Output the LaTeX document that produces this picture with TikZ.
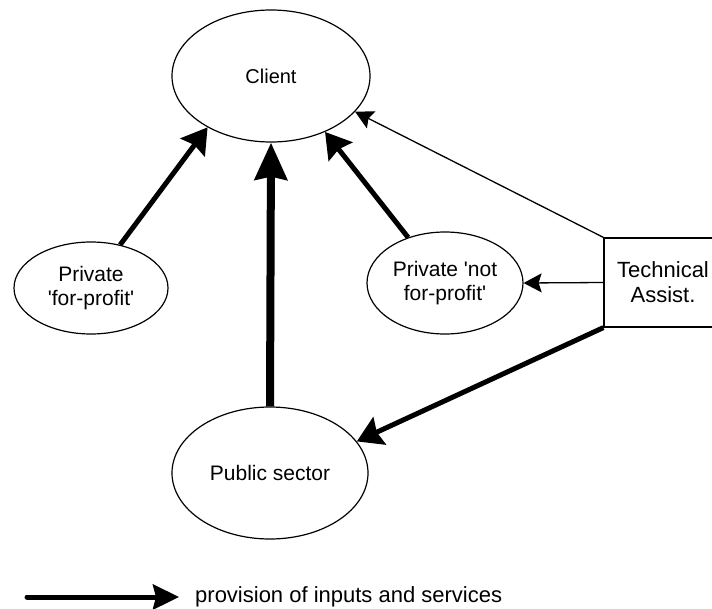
\documentclass[tikz,border=0pt]{standalone}
\usepackage{fontspec}
\setmainfont{Liberation Sans}
\usepackage{tikz}
\usetikzlibrary{arrows.meta, shapes.geometric}

\begin{document}
\begin{tikzpicture}[x=1pt, y=-1pt,
    bubble/.style={draw, ellipse, line width=1.2pt, inner sep=0pt, align=center, font=\fontsize{21}{24}\selectfont},
    flow/.style={line width=5pt, -{Stealth[length=25pt, width=30pt, inset=3pt]}},
    bigflow/.style={line width=8pt, -{Stealth[length=37pt, width=32pt, inset=3pt]}},
    hint/.style={line width=1.3pt, -{Stealth[length=18pt, width=19pt, inset=3pt]}}]
\useasboundingbox (0,0) rectangle (712,608);
\clip (0,0) rectangle (712,608);

% Draw the actors
\node[bubble, minimum width=198pt, minimum height=132pt, font=\fontsize{20}{23}\selectfont] (client) at (271,76) {Client};
\node[bubble, minimum width=154pt, minimum height=92pt] (profit) at (91,288) {Private\\\textquotesingle for-profit\textquotesingle};
\node[bubble, minimum width=156pt, minimum height=102pt] (notprofit) at (445,283) {Private \textquotesingle not\\for-profit\textquotesingle};
\node[bubble, minimum width=196pt, minimum height=132pt] (public) at (270,473) {Public sector};
\node[draw, rectangle, line width=1.2pt, minimum width=118pt, minimum height=89pt, align=center,
      font=\fontsize{22}{25}\selectfont] (assist) at (663,282.5) {Technical\\Assist.};

% Draw flows to the client
\draw[flow] (profit.56) -- (client.219);
\draw[bigflow] (public.north) -- (client.south);
\draw[flow] (notprofit.129) -- (client.314);

% Draw technical assistance
\draw[hint] (assist.north west) -- (client.337);
\draw[hint] (assist.west) -- (notprofit.east);
\draw[flow] (assist.south west) -- (public.20);

% Legend
\coordinate (legstart) at (27,597);
\coordinate (legend) at (179,597);
\draw[line width=5pt, line cap=round, -{Stealth[length=26pt, width=25pt, inset=3pt]}] (legstart) -- (legend);
\node[anchor=west, inner sep=0pt, font=\fontsize{22}{25}\selectfont] (legtext) at (195,597) {provision of inputs and services};

\end{tikzpicture}
\end{document}
